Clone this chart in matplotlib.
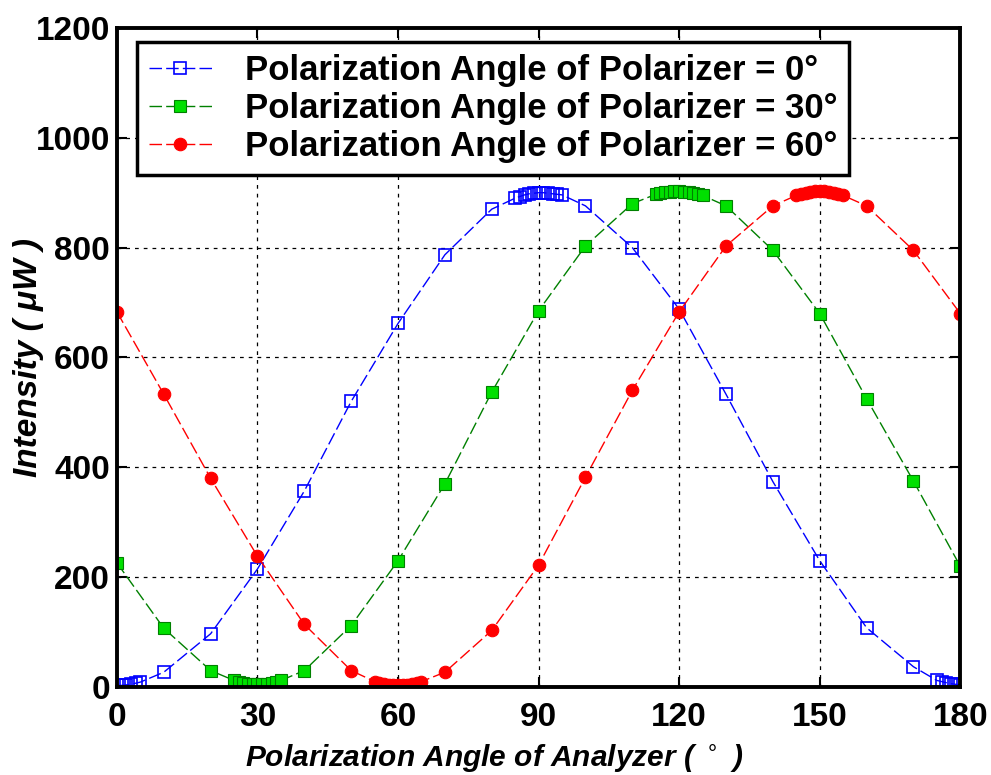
import numpy as np
import matplotlib
matplotlib.use("Agg")
import matplotlib.pyplot as plt

plt.rcParams['font.family'] = ['Liberation Sans', 'DejaVu Sans']

# analyzer angles (deg) and measured intensity (uW)
blue_x = [0, 1, 2, 3, 4, 5, 10, 20, 30, 40, 50, 60, 70, 80,
          85, 86, 87, 88, 89, 90, 91, 92, 93, 94, 95,
          100, 110, 120, 130, 140, 150, 160, 170,
          175, 176, 177, 178, 179, 180]
blue_y = [3, 3, 4, 5, 7, 9, 27, 97, 215, 357, 520, 662, 787, 870,
          890, 893, 896, 898, 899, 900, 900, 899, 898, 897, 896,
          876, 800, 688, 533, 374, 230, 108, 37,
          12, 10, 8, 6, 5, 4]

green_x = [0, 10, 20, 25, 26, 27, 28, 29, 30, 31, 32, 33, 34, 35,
           40, 50, 60, 70, 80, 90, 100, 110,
           115, 116, 117, 118, 119, 120, 121, 122, 123, 124, 125,
           130, 140, 150, 160, 170, 180]
green_y = [226, 107, 30, 12, 9, 7, 6, 5, 5, 5, 6, 7, 9, 12,
           30, 112, 230, 370, 537, 685, 803, 880,
           897, 899, 901, 902, 903, 903, 902, 901, 899, 897, 895,
           876, 795, 680, 525, 375, 220]

red_x = [0, 10, 20, 30, 40, 50, 55, 56, 57, 58, 59, 60, 61, 62, 63, 64, 65,
         70, 80, 90, 100, 110, 120, 130, 140,
         145, 146, 147, 148, 149, 150, 151, 152, 153, 154, 155,
         160, 170, 180]
red_y = [683, 533, 380, 238, 114, 30, 10, 7, 5, 4, 3, 3, 3, 4, 5, 7, 10,
         27, 103, 222, 382, 540, 683, 803, 876,
         895, 898, 900, 902, 903, 903, 903, 902, 900, 898, 895,
         876, 795, 680]

labels = ["Polarization Angle of Polarizer = 0°",
          "Polarization Angle of Polarizer = 30°",
          "Polarization Angle of Polarizer = 60°"]
xticks = [0, 30, 60, 90, 120, 150, 180]
yticks = [0, 200, 400, 600, 800, 1000, 1200]

fig = plt.figure(figsize=(9.91, 7.75), dpi=100)
ax = fig.add_axes([0.118, 0.1135, 0.851, 0.8505])

dash = (0, (9, 3))
ax.plot(blue_x, blue_y, linestyle=dash, lw=1, color='#0000ff', marker='s', ms=9,
        mfc='none', mec='#0000ff', mew=1.2, label=labels[0])
ax.plot(green_x, green_y, linestyle=dash, lw=1, color='#008000', marker='s', ms=9,
        mfc='#00e000', mec='#008000', mew=0.8, label=labels[1])
ax.plot(red_x, red_y, linestyle=dash, lw=1, color='#ff0000', marker='o', ms=9,
        mfc='#ff0000', mec='#ff0000', mew=0.8, label=labels[2])

ax.set_xlim(0, 180)
ax.set_ylim(0, 1200)
ax.set_xticks(xticks)
ax.set_yticks(yticks)
ax.grid(True, color='black', linestyle=(0, (3, 4)), linewidth=0.9)
ax.tick_params(direction='in', length=7, width=1.5, top=True, right=True,
               labelsize=24)
ax.tick_params(axis='x', pad=11)
ax.tick_params(axis='y', pad=5)
for lab in ax.get_xticklabels() + ax.get_yticklabels():
    lab.set_fontweight('bold')
for sp in ax.spines.values():
    sp.set_linewidth(2.8)

ax.set_xlabel("Polarization Angle of Analyzer ( $^\\circ$ )", fontsize=21.5,
              fontweight='bold', fontstyle='italic')
ax.xaxis.set_label_coords(0.447, -0.083, transform=ax.transAxes)
ax.xaxis.label.set_verticalalignment('top')
ax.set_ylabel("Intensity ( μW )", fontsize=24, fontweight='bold',
              fontstyle='italic', labelpad=-6)

leg = ax.legend(loc='upper left', bbox_to_anchor=(0.0237, 0.979), borderaxespad=0,
                fancybox=False, edgecolor='black', framealpha=1,
                prop={'weight': 'bold', 'size': 25}, handlelength=1.8,
                handletextpad=0.95, borderpad=0.35, labelspacing=0.15)
leg.get_frame().set_linewidth(2.5)

fig.savefig("out.png", dpi=100)
